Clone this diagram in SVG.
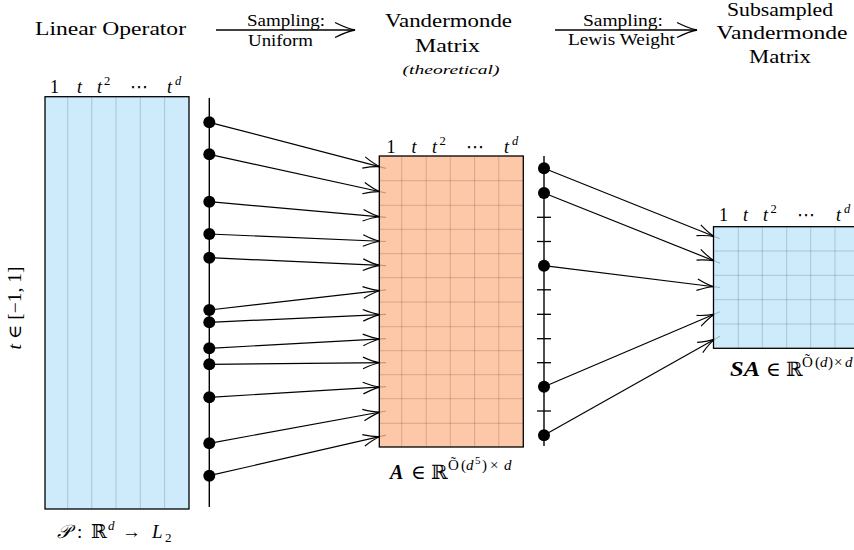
<svg xmlns="http://www.w3.org/2000/svg" width="854" height="550" viewBox="0 0 854 550">
<defs>
<style>
.t{font-family:"Liberation Serif","DejaVu Serif","DejaVu Sans",serif;fill:#000}
.it{font-style:italic}
.bi{font-style:italic;font-weight:bold}
.frame{stroke:#000;stroke-width:1.3}
.grid{stroke:#000;stroke-opacity:0.17;stroke-width:1}
.conn{stroke:#000;stroke-width:1.2;fill:none;marker-end:url(#ah)}
.big{stroke:#000;stroke-width:1.3;fill:none;marker-end:url(#ahBig)}
.axis{stroke:#000;stroke-width:1.4}
.tick{stroke:#000;stroke-width:1.3}
.dot{fill:#000}
</style>
<marker id="ah" markerUnits="userSpaceOnUse" markerWidth="30" markerHeight="20" refX="6" refY="0" orient="auto" overflow="visible">
<path d="M -17 -5.8 Q -7 -1.2 0 0 Q -7 1.2 -17 5.8" fill="none" stroke="#000" stroke-width="1.2"/>
</marker>
<marker id="ahBig" markerUnits="userSpaceOnUse" markerWidth="30" markerHeight="20" refX="0" refY="0" orient="auto" overflow="visible">
<path d="M -20 -7.5 Q -8 -1.5 0 0 Q -8 1.5 -20 7.5" fill="none" stroke="#000" stroke-width="1.3"/>
</marker>
</defs>
<rect width="854" height="550" fill="#fff"/>

<g id="operator-matrix">
<rect x="45" y="96.7" width="144" height="412.3" fill="#CDEBFA" class="frame"/>
<g class="grid">
<line x1="67.7" y1="97" x2="67.7" y2="508.5"/>
<line x1="91.8" y1="97" x2="91.8" y2="508.5"/>
<line x1="116" y1="97" x2="116" y2="508.5"/>
<line x1="140.3" y1="97" x2="140.3" y2="508.5"/>
<line x1="164.6" y1="97" x2="164.6" y2="508.5"/>
</g>
<text class="t" font-size="18" x="50" y="93">1</text>
<text class="t it" font-size="18" x="77" y="93">t</text>
<text class="t it" font-size="18" x="97" y="93">t</text>
<text class="t" font-size="12.5" x="104" y="85">2</text>
<text class="t" font-size="18" x="130" y="93" textLength="23">⋯</text>
<text class="t it" font-size="18" x="167" y="93">t</text>
<text class="t it" font-size="12.5" x="175" y="85">d</text>
<text class="t" font-size="18" transform="translate(21,308) rotate(-90)" text-anchor="middle" textLength="83" lengthAdjust="spacingAndGlyphs"><tspan class="it">t</tspan> ∈ [−1, 1]</text>
<text class="t" font-size="19" y="538"><tspan x="57" class="it">𝒫</tspan><tspan x="77">:</tspan><tspan x="91">ℝ</tspan><tspan x="108" y="530" font-size="13" class="it">d</tspan><tspan x="122" y="538">→</tspan><tspan x="152" class="it">L</tspan><tspan x="165" y="542" font-size="13">2</tspan></text>
</g>

<g id="connectors">
<line class="big" x1="216" y1="30" x2="355" y2="30"/>
<text class="t" font-size="17" x="247" y="25.5" textLength="78" lengthAdjust="spacingAndGlyphs">Sampling:</text>
<text class="t" font-size="17" x="248" y="46" textLength="65" lengthAdjust="spacingAndGlyphs">Uniform</text>
<line class="big" x1="555" y1="30" x2="697" y2="30"/>
<text class="t" font-size="17" x="623" y="25.5" text-anchor="middle" textLength="80" lengthAdjust="spacingAndGlyphs">Sampling:</text>
<text class="t" font-size="17" x="621.5" y="45" text-anchor="middle" textLength="107" lengthAdjust="spacingAndGlyphs">Lewis Weight</text>
<line class="conn" x1="209.3" y1="122.3" x2="386" y2="168.3"/>
<line class="conn" x1="209.3" y1="154.3" x2="386" y2="193"/>
<line class="conn" x1="209.3" y1="201.7" x2="386" y2="217.3"/>
<line class="conn" x1="209.3" y1="234" x2="386" y2="241.5"/>
<line class="conn" x1="209.3" y1="257.7" x2="386" y2="265.7"/>
<line class="conn" x1="209.3" y1="310" x2="386" y2="289.8"/>
<line class="conn" x1="209.3" y1="322.3" x2="386" y2="314.3"/>
<line class="conn" x1="209.3" y1="348.3" x2="386" y2="338.7"/>
<line class="conn" x1="209.3" y1="364.3" x2="386" y2="362.7"/>
<line class="conn" x1="209.3" y1="397.3" x2="386" y2="386.7"/>
<line class="conn" x1="209.3" y1="443.3" x2="386" y2="411"/>
<line class="conn" x1="209.3" y1="475.7" x2="386" y2="435.2"/>
<line class="conn" x1="544" y1="168.3" x2="720" y2="238.8"/>
<line class="conn" x1="544" y1="193" x2="720" y2="263.2"/>
<line class="conn" x1="544" y1="265.7" x2="720" y2="287.5"/>
<line class="conn" x1="544" y1="386.7" x2="720" y2="311.8"/>
<line class="conn" x1="544" y1="435.2" x2="720" y2="336.2"/>
</g>

<g id="uniform-samples">
<line class="axis" x1="209.3" y1="98" x2="209.3" y2="507"/>
<circle class="dot" cx="209.3" cy="122.3" r="6"/>
<circle class="dot" cx="209.3" cy="154.3" r="6"/>
<circle class="dot" cx="209.3" cy="201.7" r="6"/>
<circle class="dot" cx="209.3" cy="234" r="6"/>
<circle class="dot" cx="209.3" cy="257.7" r="6"/>
<circle class="dot" cx="209.3" cy="310" r="6"/>
<circle class="dot" cx="209.3" cy="322.3" r="6"/>
<circle class="dot" cx="209.3" cy="348.3" r="6"/>
<circle class="dot" cx="209.3" cy="364.3" r="6"/>
<circle class="dot" cx="209.3" cy="397.3" r="6"/>
<circle class="dot" cx="209.3" cy="443.3" r="6"/>
<circle class="dot" cx="209.3" cy="475.7" r="6"/>
</g>

<g id="vandermonde-matrix">
<rect x="379.3" y="156" width="144" height="291" fill="#FCBA92" fill-opacity="0.8"/>
<rect x="379.3" y="156" width="144" height="291" fill="none" class="frame"/>
<g class="grid">
<line x1="401.7" y1="156.5" x2="401.7" y2="446.5"/>
<line x1="426.2" y1="156.5" x2="426.2" y2="446.5"/>
<line x1="450.3" y1="156.5" x2="450.3" y2="446.5"/>
<line x1="474.6" y1="156.5" x2="474.6" y2="446.5"/>
<line x1="498.8" y1="156.5" x2="498.8" y2="446.5"/>
<line x1="380" y1="180.7" x2="523" y2="180.7"/>
<line x1="380" y1="205.3" x2="523" y2="205.3"/>
<line x1="380" y1="229.3" x2="523" y2="229.3"/>
<line x1="380" y1="253.7" x2="523" y2="253.7"/>
<line x1="380" y1="277.7" x2="523" y2="277.7"/>
<line x1="380" y1="302" x2="523" y2="302"/>
<line x1="380" y1="326.7" x2="523" y2="326.7"/>
<line x1="380" y1="350.7" x2="523" y2="350.7"/>
<line x1="380" y1="374.7" x2="523" y2="374.7"/>
<line x1="380" y1="398.7" x2="523" y2="398.7"/>
<line x1="380" y1="423.3" x2="523" y2="423.3"/>
</g>
<text class="t" font-size="18" x="386.5" y="153">1</text>
<text class="t it" font-size="18" x="411.5" y="153">t</text>
<text class="t it" font-size="18" x="432" y="153">t</text>
<text class="t" font-size="12.5" x="439.5" y="145">2</text>
<text class="t" font-size="18" x="466" y="153" textLength="23">⋯</text>
<text class="t it" font-size="18" x="504" y="153">t</text>
<text class="t it" font-size="12.5" x="512" y="145">d</text>
<text class="t" font-size="20" y="479"><tspan x="390" class="bi">A</tspan><tspan x="411">∈</tspan><tspan x="431">ℝ</tspan><tspan x="448" y="470" font-size="15">Õ</tspan><tspan x="461" font-size="15">(</tspan><tspan x="466" class="it" font-size="15">d</tspan><tspan x="475" y="464" font-size="11">5</tspan><tspan x="482" y="470" font-size="15">)</tspan><tspan x="490" font-size="15">×</tspan><tspan x="504" class="it" font-size="15">d</tspan></text>
</g>

<g id="lewis-samples">
<line class="axis" x1="544" y1="156" x2="544" y2="446"/>
<circle class="dot" cx="544" cy="168.3" r="6"/>
<circle class="dot" cx="544" cy="193" r="6"/>
<line class="tick" x1="537" y1="217.3" x2="551" y2="217.3"/>
<line class="tick" x1="537" y1="241.5" x2="551" y2="241.5"/>
<circle class="dot" cx="544" cy="265.7" r="6"/>
<line class="tick" x1="537" y1="289.8" x2="551" y2="289.8"/>
<line class="tick" x1="537" y1="314.3" x2="551" y2="314.3"/>
<line class="tick" x1="537" y1="338.7" x2="551" y2="338.7"/>
<line class="tick" x1="537" y1="362.7" x2="551" y2="362.7"/>
<circle class="dot" cx="544" cy="386.7" r="6"/>
<line class="tick" x1="537" y1="411" x2="551" y2="411"/>
<circle class="dot" cx="544" cy="435.2" r="6"/>
</g>

<g id="subsampled-matrix">
<rect x="713.5" y="226.7" width="150" height="121.6" fill="#C0E6F9" fill-opacity="0.8"/>
<rect x="713.5" y="226.7" width="150" height="121.6" fill="none" class="frame"/>
<g class="grid">
<line x1="738.3" y1="227.2" x2="738.3" y2="347.8"/>
<line x1="762.3" y1="227.2" x2="762.3" y2="347.8"/>
<line x1="786.7" y1="227.2" x2="786.7" y2="347.8"/>
<line x1="810.7" y1="227.2" x2="810.7" y2="347.8"/>
<line x1="835" y1="227.2" x2="835" y2="347.8"/>
<line x1="714" y1="251" x2="854" y2="251"/>
<line x1="714" y1="275.3" x2="854" y2="275.3"/>
<line x1="714" y1="299.7" x2="854" y2="299.7"/>
<line x1="714" y1="324" x2="854" y2="324"/>
</g>
<text class="t" font-size="18" x="719" y="221">1</text>
<text class="t it" font-size="18" x="743" y="221">t</text>
<text class="t it" font-size="18" x="763" y="221">t</text>
<text class="t" font-size="12.5" x="770.5" y="213">2</text>
<text class="t" font-size="18" x="797" y="221" textLength="23">⋯</text>
<text class="t it" font-size="18" x="836" y="221">t</text>
<text class="t it" font-size="12.5" x="844" y="213">d</text>
<text class="t bi" font-size="20" x="730" y="376" textLength="30" lengthAdjust="spacingAndGlyphs">SA</text>
<text class="t" font-size="20" y="376"><tspan x="766">∈</tspan><tspan x="786">ℝ</tspan><tspan x="802" y="367" font-size="15">Õ</tspan><tspan x="815" font-size="15">(</tspan><tspan x="820" class="it" font-size="15">d</tspan><tspan x="828" font-size="15">)</tspan><tspan x="834" font-size="15">×</tspan><tspan x="845" class="it" font-size="15">d</tspan></text>
</g>

<g id="title-linear-operator">
<text class="t" font-size="19" x="35" y="35" textLength="151" lengthAdjust="spacingAndGlyphs">Linear Operator</text>
</g>
<g id="title-vandermonde">
<text class="t" font-size="19" x="448.5" y="27" text-anchor="middle" textLength="127" lengthAdjust="spacingAndGlyphs">Vandermonde</text>
<text class="t" font-size="19" x="447.5" y="51.5" text-anchor="middle" textLength="65" lengthAdjust="spacingAndGlyphs">Matrix</text>
<text class="t it" font-size="13" x="451" y="73.5" text-anchor="middle" textLength="97" lengthAdjust="spacingAndGlyphs">(theoretical)</text>
</g>
<g id="title-subsampled">
<text class="t" font-size="19" x="780" y="15.5" text-anchor="middle" textLength="106" lengthAdjust="spacingAndGlyphs">Subsampled</text>
<text class="t" font-size="19" x="782" y="38.5" text-anchor="middle" textLength="131" lengthAdjust="spacingAndGlyphs">Vandermonde</text>
<text class="t" font-size="19" x="780" y="62.5" text-anchor="middle" textLength="62" lengthAdjust="spacingAndGlyphs">Matrix</text>
</g>
</svg>
